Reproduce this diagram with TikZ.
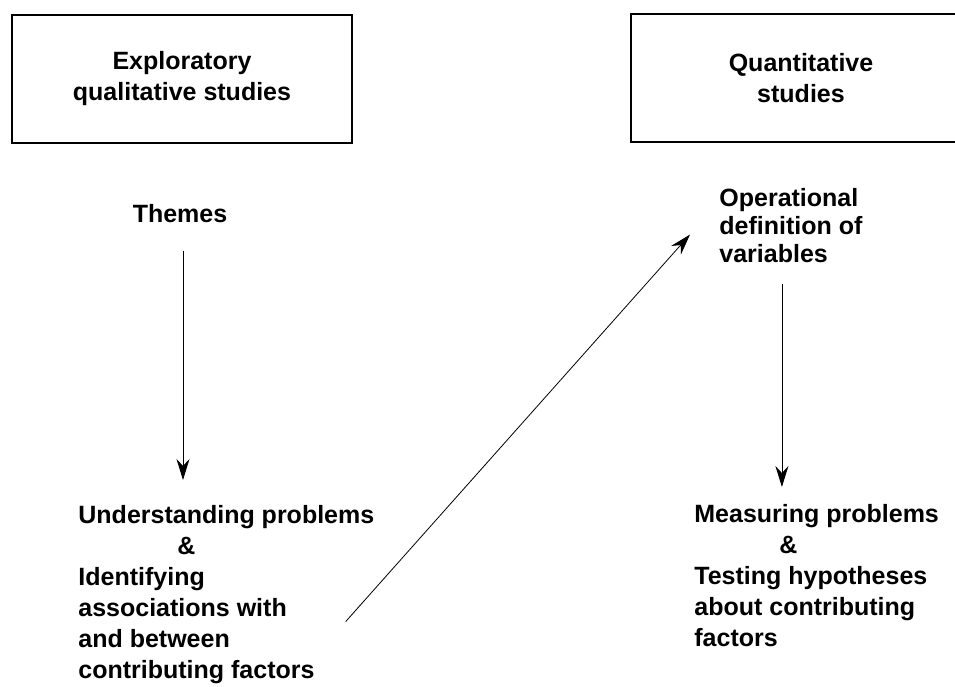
\documentclass[tikz,border=0pt]{standalone}
\usepackage{fontspec}
\setmainfont{Liberation Sans}
\usetikzlibrary{arrows.meta}

\begin{document}
\begin{tikzpicture}[x=1pt, y=-1pt, >={Stealth[length=21pt, width=13pt, inset=7pt]}, line width=0.8pt,
    studybox/.style={draw, rectangle, line width=1.3pt, minimum width=340pt, minimum height=128pt, align=center, font=\bfseries\fontsize{25}{31}\selectfont},
    phrase/.style={inner sep=0pt, align=left, font=\bfseries\fontsize{25}{31}\selectfont}]

    \useasboundingbox (0,0) rectangle (955,687);

    \node[studybox] (expl) at (182,79) {Exploratory\\qualitative studies};
    \node[studybox] (quant) at (801,78) {Quantitative\\studies};

    \node[phrase] (themes) at (180,214) {Themes};
    \node[phrase, anchor=north west] (underst) at (78,505) {Understanding problems\\\hspace*{99pt}\&\\Identifying\\associations with\\and between\\contributing factors};

    \node[phrase, anchor=north west, font=\bfseries\fontsize{25}{28}\selectfont] (oper) at (719,188) {Operational\\definition of\\variables};
    \node[phrase, anchor=north west] (meas) at (694,504) {Measuring problems\\\hspace*{85pt}\&\\Testing hypotheses\\about contributing\\factors};

    \draw[->, shorten <=27pt, shorten >=25pt] ([xshift=3pt]themes.south) -- ([xshift=3pt]themes.south |- underst.north);
    \draw[->] ([xshift=-29pt, yshift=-27pt]underst.east) -- ([xshift=-29pt, yshift=-9pt]oper.west);
    \draw[->, shorten <=21pt, shorten >=17pt] ([xshift=-9pt]oper.south) -- ([xshift=-9pt]oper.south |- meas.north);
\end{tikzpicture}
\end{document}
